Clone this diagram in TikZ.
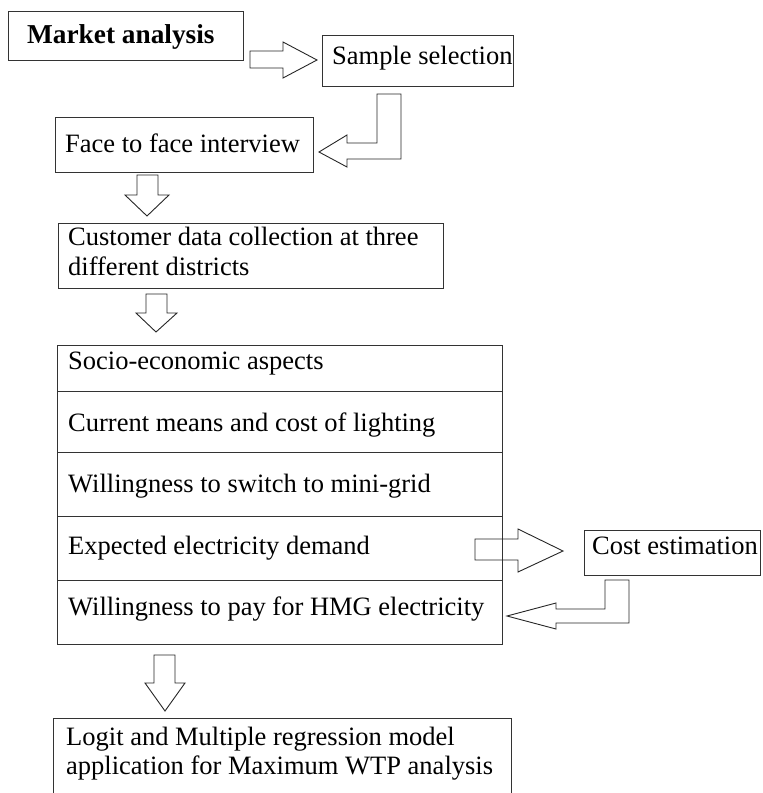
\documentclass[tikz,border=0pt]{standalone}
\usepackage{fontspec}
\setmainfont{Liberation Serif}
\begin{document}
\begin{tikzpicture}[x=1pt,y=-1pt,
  box/.style={draw=black!80,line width=1.1pt,inner sep=0pt,anchor=north west},
  txt/.style={anchor=base west,inner sep=0pt,font=\fontsize{26.5}{30}\selectfont},
  barrow/.style={draw=black!85,line width=0.9pt,line join=miter,fill=none}]
\useasboundingbox (0,0) rectangle (763,793);
\begin{scope}
\clip (0,0) rectangle (763,793);
% boxes
\node[box,minimum width=235pt,minimum height=49pt] (ma) at (8,11) {};
\node[box,minimum width=191pt,minimum height=51pt] (ss) at (322,35) {};
\node[box,minimum width=258pt,minimum height=55pt] (ff) at (55,117) {};
\node[box,minimum width=385pt,minimum height=65pt] (cd) at (58,223) {};
\node[box,minimum width=445pt,minimum height=46pt] (r1) at (57,345) {};
\node[box,minimum width=445pt,minimum height=61pt] (r2) at (57,391) {};
\node[box,minimum width=445pt,minimum height=64pt] (r3) at (57,452) {};
\node[box,minimum width=445pt,minimum height=64pt] (r4) at (57,516) {};
\node[box,minimum width=445pt,minimum height=64pt] (r5) at (57,580) {};
\node[box,minimum width=176pt,minimum height=45pt] (ce) at (584,530) {};
\node[box,minimum width=458pt,minimum height=90pt] (lg) at (53,718) {};
% texts
\node[txt,font=\fontsize{27.3}{30}\selectfont\bfseries] (tma) at (27,43) {Market analysis};
\node[txt] (tss) at (332,64) {Sample selection};
\node[txt] (tff) at (65,152) {Face to face interview};
\node[txt] (tcd1) at (68,245) {Customer data collection at three};
\node[txt] (tcd2) at (68,275) {different districts};
\node[txt] (tr1) at (68,369) {Socio-economic aspects};
\node[txt] (tr2) at (68,431) {Current means and cost of lighting};
\node[txt] (tr3) at (68,492) {Willingness to switch to mini-grid};
\node[txt] (tr4) at (68,554) {Expected electricity demand};
\node[txt] (tr5) at (68,615) {Willingness to pay for HMG electricity};
\node[txt] (tce) at (592,554) {Cost estimation};
\node[txt] (tlg1) at (66,745) {Logit and Multiple regression model};
\node[txt] (tlg2) at (66,774) {application for Maximum WTP analysis};
% block arrows
\draw[barrow] (250,51) -- (283,51) -- (283,42) -- (317,60) -- (283,78) -- (283,68) -- (250,68) -- cycle;
\draw[barrow] (377,94) -- (401,94) -- (401,159) -- (347,159) -- (347,167) -- (319,152) -- (347,135) -- (347,143) -- (377,143) -- cycle;
\draw[barrow] (137,175) -- (158,175) -- (158,195) -- (169,195) -- (147,216) -- (125,195) -- (137,195) -- cycle;
\draw[barrow] (146,294) -- (167,294) -- (167,313) -- (177,313) -- (156,332) -- (136,313) -- (146,313) -- cycle;
\draw[barrow] (475,539) -- (518,539) -- (518,529) -- (563,551) -- (518,572) -- (518,560) -- (475,560) -- cycle;
\draw[barrow] (605,580) -- (629,580) -- (629,623) -- (556,623) -- (556,629) -- (507,616) -- (556,603) -- (556,609) -- (605,609) -- cycle;
\draw[barrow] (154,655) -- (175,655) -- (175,683) -- (185,683) -- (165,711) -- (145,683) -- (154,683) -- cycle;
\end{scope}
\end{tikzpicture}
\end{document}
